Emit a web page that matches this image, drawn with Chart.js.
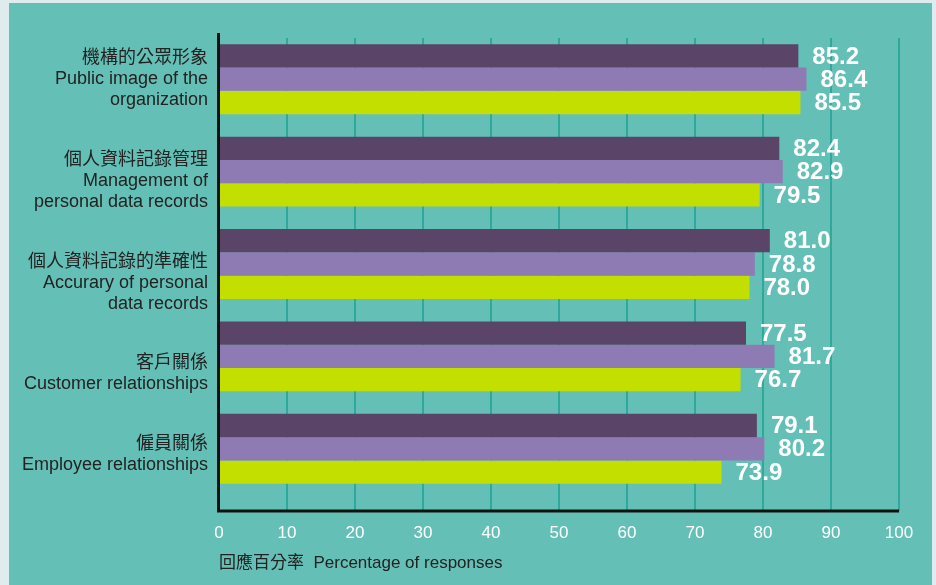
<!DOCTYPE html>
<html>
<head>
<meta charset="utf-8">
<script src="https://cdn.jsdelivr.net/npm/chart.js@4/dist/chart.umd.min.js"></script>
<style>
  html, body { margin: 0; padding: 0; background: #dfeced; }
  #panel { position: absolute; left: 9px; top: 3px; width: 923px; height: 582px; background: #64c0b7; }
  canvas { display: block; }
</style>
</head>
<body>
<div id="panel"><canvas id="surveyChart" width="923" height="582"></canvas></div>
<script>
const categories = [
  ['機構的公眾形象', 'Public image of the', 'organization'],
  ['個人資料記錄管理', 'Management of', 'personal data records'],
  ['個人資料記錄的準確性', 'Accurary of personal', 'data records'],
  ['客戶關係', 'Customer relationships'],
  ['僱員關係', 'Employee relationships']
];
const seriesNames = ['Series 1', 'Series 2', 'Series 3'];
const darkValues = [85.2, 82.4, 81.0, 77.5, 79.1];
const lavenderValues = [86.4, 82.9, 78.8, 81.7, 80.2];
const limeValues = [85.5, 79.5, 78.0, 76.7, 73.9];
const xTicks = [0, 10, 20, 30, 40, 50, 60, 70, 80, 90, 100];
const axisTitle = '回應百分率  Percentage of responses';

const fontFamily = "'Liberation Sans', 'Noto Sans CJK TC', sans-serif";
// the original's category labels sit a little below their bar groups
const labelNudge = [0, 9, 19, 17, 6];

// grid + axis lines + category labels + value labels (no datalabels plugin offline)
const axesPlugin = {
  id: 'axesPlugin',
  beforeDatasetsDraw(chart) {
    const { ctx, chartArea } = chart;
    const x = chart.scales.x;
    const bottom = chartArea.bottom + 16;
    ctx.save();
    ctx.strokeStyle = '#2ea99b';
    ctx.lineWidth = 2;
    xTicks.slice(1).forEach(v => {
      const px = Math.round(x.getPixelForValue(v));
      ctx.beginPath();
      ctx.moveTo(px, chartArea.top + 5);
      ctx.lineTo(px, bottom);
      ctx.stroke();
    });

    // category labels
    const y = chart.scales.y;
    ctx.fillStyle = '#222222';
    ctx.font = '18px ' + fontFamily;
    ctx.textAlign = 'right';
    ctx.textBaseline = 'middle';
    categories.forEach((lines, i) => {
      const cy = y.getPixelForValue(i) + labelNudge[i];
      const lh = 21;
      lines.forEach((line, k) => {
        ctx.fillText(line, chartArea.left - 11, cy + (k - (lines.length - 1) / 2) * lh);
      });
    });
    ctx.restore();
  },
  afterDatasetsDraw(chart) {
    const { ctx, chartArea } = chart;
    const x = chart.scales.x;
    const bottom = chartArea.bottom + 16;
    ctx.save();
    ctx.strokeStyle = '#111';
    ctx.lineWidth = 3;
    ctx.beginPath();
    ctx.moveTo(chartArea.left - 0.5, chartArea.top);
    ctx.lineTo(chartArea.left - 0.5, bottom);
    ctx.lineTo(x.getPixelForValue(100), bottom);
    ctx.stroke();

    ctx.fillStyle = '#ffffff';
    ctx.font = 'bold 24px ' + fontFamily;
    ctx.textAlign = 'left';
    ctx.textBaseline = 'middle';
    chart.data.datasets.forEach((ds, i) => {
      chart.getDatasetMeta(i).data.forEach((bar, j) => {
        ctx.fillText(ds.data[j].toFixed(1), bar.x + 14, bar.y + 1);
      });
    });
    ctx.restore();
  }
};

const ctx = document.getElementById('surveyChart').getContext('2d');
new Chart(ctx, {
  type: 'bar',
  data: {
    labels: categories,
    datasets: [
      { label: seriesNames[0], data: darkValues, backgroundColor: '#5a4569' },
      { label: seriesNames[1], data: lavenderValues, backgroundColor: '#8f7bb3' },
      { label: seriesNames[2], data: limeValues, backgroundColor: '#c2df00' }
    ]
  },
  options: {
    indexAxis: 'y',
    responsive: false,
    animation: false,
    layout: { padding: { top: 30, right: 33, left: 0, bottom: 0 } },
    datasets: {
      bar: { barPercentage: 1, categoryPercentage: 0.757, borderWidth: 0 }
    },
    plugins: {
      legend: { display: false },
      tooltip: { enabled: false }
    },
    scales: {
      x: {
        min: 0,
        max: 100,
        afterFit: scale => {
          scale.height = 90;
          scale.paddingLeft = 0;
          scale.paddingRight = 0;
        },
        afterBuildTicks: scale => { scale.ticks = xTicks.map(v => ({ value: v })); },
        grid: { display: false, drawTicks: false },
        border: { display: false },
        ticks: {
          color: '#ffffff',
          padding: 28,
          font: { family: fontFamily, size: 17 }
        },
        title: {
          display: true,
          text: axisTitle,
          align: 'start',
          color: '#222222',
          font: { family: fontFamily, size: 17 },
          padding: { top: 0, bottom: 11 }
        }
      },
      y: {
        afterFit: scale => {
          scale.width = 210;
          scale.paddingTop = 0;
          scale.paddingBottom = 0;
        },
        grid: { display: false, drawTicks: false },
        border: { display: false },
        ticks: { display: false }
      }
    }
  },
  plugins: [axesPlugin]
});
</script>
</body>
</html>
